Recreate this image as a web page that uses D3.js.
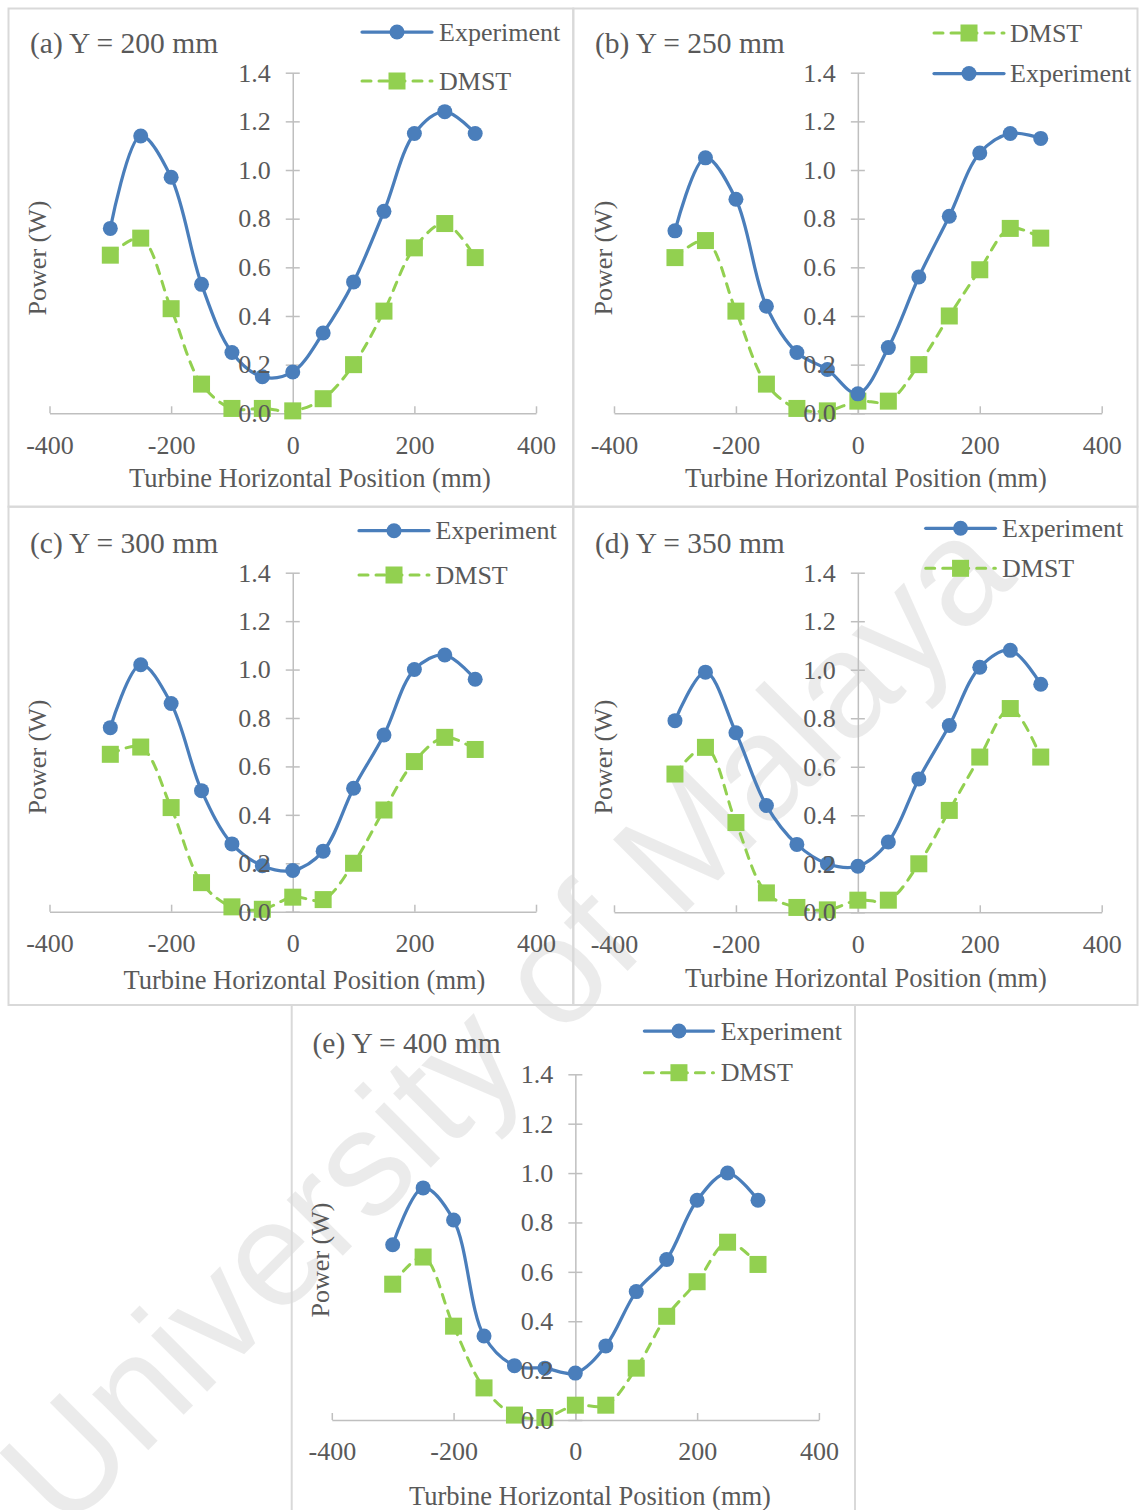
<!DOCTYPE html>
<html>
<head>
<meta charset="utf-8">
<script src="https://cdn.jsdelivr.net/npm/d3@7"></script>
<style>
  html, body { margin: 0; padding: 0; background: #fff; }
  svg { display: block; }
</style>
</head>
<body>
<svg id="chart" width="1144" height="1510"></svg>
<script>
// Turbine horizontal positions (mm) at which power was measured / predicted
const positions = [-300, -250, -200, -150, -100, -50, 0, 50, 100, 150, 200, 250, 300];
const xTickValues = [-400, -200, 0, 200, 400];
const yTickValues = [0, 0.2, 0.4, 0.6, 0.8, 1.0, 1.2, 1.4];

const panelTitles = ["(a) Y = 200 mm", "(b) Y = 250 mm", "(c) Y = 300 mm", "(d) Y = 350 mm", "(e) Y = 400 mm"];
const seriesNames = ["Experiment", "DMST"];
const xAxisTitle = "Turbine Horizontal Position (mm)";
const yAxisTitle = "Power (W)";
const watermarkText = "University of Malaya";

// Power (W), experiment
const experimentA = [0.76, 1.14, 0.97, 0.53, 0.25, 0.15, 0.17, 0.33, 0.54, 0.83, 1.15, 1.24, 1.15];
const experimentB = [0.75, 1.05, 0.88, 0.44, 0.25, 0.18, 0.08, 0.27, 0.56, 0.81, 1.07, 1.15, 1.13];
const experimentC = [0.76, 1.02, 0.86, 0.50, 0.28, 0.19, 0.17, 0.25, 0.51, 0.73, 1.00, 1.06, 0.96];
const experimentD = [0.79, 0.99, 0.74, 0.44, 0.28, 0.20, 0.19, 0.29, 0.55, 0.77, 1.01, 1.08, 0.94];
const experimentE = [0.71, 0.94, 0.81, 0.34, 0.22, 0.21, 0.19, 0.30, 0.52, 0.65, 0.89, 1.00, 0.89];

// Power (W), DMST model
const dmstA = [0.65, 0.72, 0.43, 0.12, 0.02, 0.02, 0.01, 0.06, 0.20, 0.42, 0.68, 0.78, 0.64];
const dmstB = [0.64, 0.71, 0.42, 0.12, 0.02, 0.01, 0.05, 0.05, 0.20, 0.40, 0.59, 0.76, 0.72];
const dmstC = [0.65, 0.68, 0.43, 0.12, 0.02, 0.01, 0.06, 0.05, 0.20, 0.42, 0.62, 0.72, 0.67];
const dmstD = [0.57, 0.68, 0.37, 0.08, 0.02, 0.01, 0.05, 0.05, 0.20, 0.42, 0.64, 0.84, 0.64];
const dmstE = [0.55, 0.66, 0.38, 0.13, 0.02, 0.01, 0.06, 0.06, 0.21, 0.42, 0.56, 0.72, 0.63];

const experimentSets = [experimentA, experimentB, experimentC, experimentD, experimentE];
const dmstSets = [dmstA, dmstB, dmstC, dmstD, dmstE];

// Styling
const BLUE = "#4a7ebb";
const GREEN = "#92d050";
const TEXT = "#595959";
const AXIS = "#bfbfbf";
const FRAME = "#d9d9d9";
const FONT = "'Liberation Serif', 'Times New Roman', serif";

// Page layout of the five panels
const layout = [
  { box: [8.5, 8.5, 573.3, 506.7], xr: [49.5, 536], yr: [413.3, 72.7], title: [30, 53], xt: [310, 487], yt: [46, 258],
    legend: { x0: 362, x1: 432, tx: 439, rows: [[0, 32], [1, 81]] } },
  { box: [573.3, 8.5, 1137.5, 506.7], xr: [614, 1101.7], yr: [413.3, 72.7], title: [595, 53], xt: [866, 487], yt: [612, 258],
    legend: { x0: 934, x1: 1004, tx: 1010, rows: [[1, 33], [0, 73.5]] } },
  { box: [8.5, 506.7, 573.3, 1005], xr: [49.5, 536], yr: [911.7, 572.7], title: [30, 553], xt: [304.5, 989], yt: [46, 757],
    legend: { x0: 359, x1: 429, tx: 435.5, rows: [[0, 530.7], [1, 575]] } },
  { box: [573.3, 506.7, 1137.5, 1005], xr: [614, 1101.7], yr: [912.3, 572.7], title: [595, 553], xt: [866, 986.5], yt: [612, 757],
    legend: { x0: 925.7, x1: 995.4, tx: 1002, rows: [[0, 528.3], [1, 568.3]] } },
  { box: [291.7, 1005, 855, 1514], xr: [331.8, 818.9], yr: [1420, 1074.3], title: [312.5, 1053], xt: [590, 1505], yt: [329, 1260],
    legend: { x0: 644.4, x1: 713.5, tx: 720.7, rows: [[0, 1031], [1, 1072.7]] } }
];

const svg = d3.select("#chart");
svg.append("rect").attr("width", 1144).attr("height", 1510).attr("fill", "#fff");

// Faint diagonal watermark behind the panels
svg.append("text")
  .attr("transform", "translate(505,1020) rotate(-45)")
  .attr("text-anchor", "middle")
  .attr("dominant-baseline", "central")
  .attr("font-family", "'Liberation Sans', Arial, sans-serif")
  .attr("font-size", 150)
  .attr("fill", "#000")
  .attr("fill-opacity", 0.08)
  .text(watermarkText);

const SQ = 17;     // DMST square marker side
const R = 7.5;     // experiment circle marker radius

function drawMarker(g, kind, x, y) {
  if (kind === 0) {
    g.append("circle").attr("cx", x).attr("cy", y).attr("r", R).attr("fill", BLUE);
  } else {
    g.append("rect").attr("x", x - SQ / 2).attr("y", y - SQ / 2)
      .attr("width", SQ).attr("height", SQ).attr("fill", GREEN);
  }
}

// Plain hyphen for negative tick values
const xFormat = d => String(d);

layout.forEach((L, i) => {
  const g = svg.append("g");
  const [bx0, by0, bx1, by1] = L.box;

  // Panel frame
  g.append("rect").attr("x", bx0).attr("y", by0).attr("width", bx1 - bx0).attr("height", by1 - by0)
    .attr("fill", "none").attr("stroke", FRAME).attr("stroke-width", 2);

  const x = d3.scaleLinear().domain([-400, 400]).range(L.xr);
  const y = d3.scaleLinear().domain([0, 1.4]).range(L.yr);

  const xAxis = d3.axisBottom(x).tickValues(xTickValues).tickSizeInner(-7).tickSizeOuter(0)
    .tickPadding(22).tickFormat(xFormat);
  const yAxis = d3.axisLeft(y).tickValues(yTickValues).tickSizeInner(7).tickSizeOuter(0)
    .tickPadding(15).tickFormat(d3.format(".1f"));

  // Axis lines and tick marks (below the data)
  const gxLines = g.append("g").attr("transform", `translate(0,${y(0)})`).call(xAxis);
  const gyLines = g.append("g").attr("transform", `translate(${x(0)},0)`).call(yAxis);
  [gxLines, gyLines].forEach(a => {
    a.selectAll("text").remove();
    a.select(".domain").attr("stroke", AXIS).attr("stroke-width", 1.5);
    a.selectAll(".tick line").attr("stroke", AXIS).attr("stroke-width", 1.5);
  });
  gyLines.selectAll(".tick line").attr("x1", 7);

  // Series
  const expPts = positions.map((p, k) => [x(p), y(experimentSets[i][k])]);
  const dmPts = positions.map((p, k) => [x(p), y(dmstSets[i][k])]);
  const line = d3.line().curve(d3.curveCatmullRom.alpha(0.5));

  g.append("path").attr("d", line(dmPts)).attr("fill", "none").attr("stroke", GREEN)
    .attr("stroke-width", 3).attr("stroke-dasharray", "9,8").attr("stroke-linecap", "round");
  g.append("path").attr("d", line(expPts)).attr("fill", "none").attr("stroke", BLUE)
    .attr("stroke-width", 3.25).attr("stroke-linecap", "round");

  const mg = g.append("g");
  dmPts.forEach(p => drawMarker(mg, 1, p[0], p[1]));
  expPts.forEach(p => drawMarker(mg, 0, p[0], p[1]));

  // Tick labels (drawn above the data)
  const gxText = g.append("g").attr("transform", `translate(0,${y(0)})`).call(xAxis);
  const gyText = g.append("g").attr("transform", `translate(${x(0)},0)`).call(yAxis);
  [gxText, gyText].forEach(a => {
    a.select(".domain").remove();
    a.selectAll(".tick line").remove();
    a.selectAll("text").attr("fill", TEXT).attr("font-family", FONT).attr("font-size", 26);
  });

  // Axis titles
  g.append("text").attr("x", L.xt[0]).attr("y", L.xt[1]).attr("text-anchor", "middle")
    .attr("font-family", FONT).attr("font-size", 26.5).attr("fill", TEXT).text(xAxisTitle);
  g.append("text").attr("transform", `translate(${L.yt[0]},${L.yt[1]}) rotate(-90)`).attr("text-anchor", "middle")
    .attr("font-family", FONT).attr("font-size", 26).attr("fill", TEXT).text(yAxisTitle);

  // Panel title
  g.append("text").attr("x", L.title[0]).attr("y", L.title[1])
    .attr("font-family", FONT).attr("font-size", 29.5).attr("fill", TEXT).text(panelTitles[i]);

  // Legend
  const lg = g.append("g");
  L.legend.rows.forEach(([kind, ly]) => {
    const ln = lg.append("line").attr("x1", L.legend.x0).attr("x2", L.legend.x1)
      .attr("y1", ly).attr("y2", ly).attr("stroke-linecap", "round");
    if (kind === 0) {
      ln.attr("stroke", BLUE).attr("stroke-width", 3.25);
    } else {
      ln.attr("stroke", GREEN).attr("stroke-width", 3).attr("stroke-dasharray", "9,8");
    }
    drawMarker(lg, kind, (L.legend.x0 + L.legend.x1) / 2, ly);
    lg.append("text").attr("x", L.legend.tx).attr("y", ly + 8.5)
      .attr("font-family", FONT).attr("font-size", 26).attr("fill", TEXT).text(seriesNames[kind]);
  });
});
</script>
</body>
</html>
